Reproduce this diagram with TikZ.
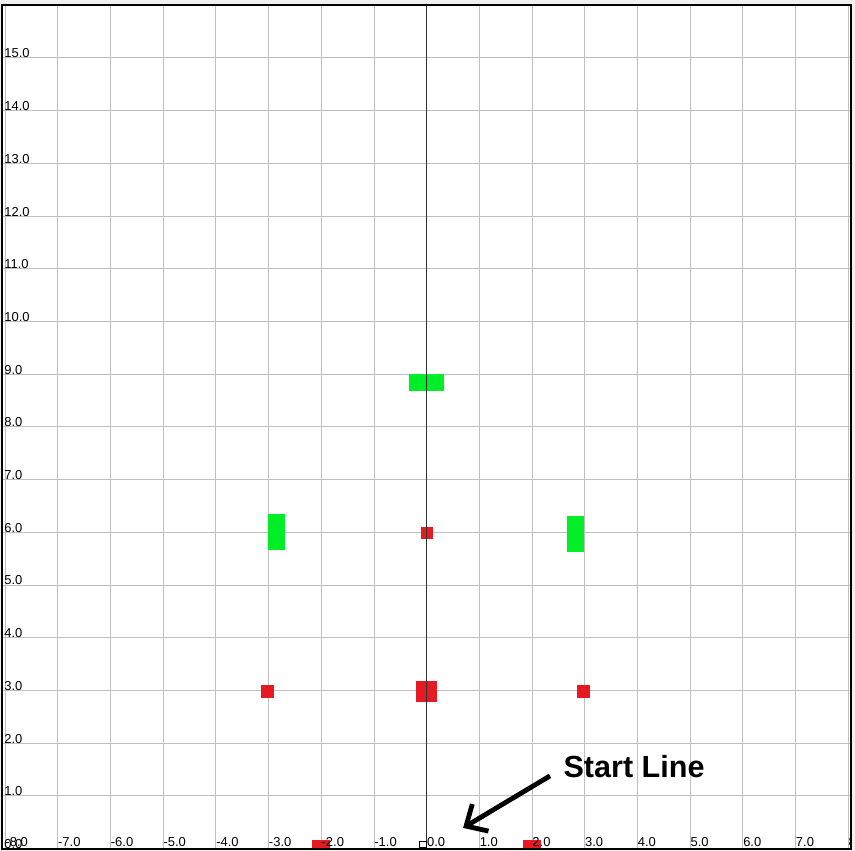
\documentclass[tikz,border=0pt]{standalone}
\usepackage{fontspec}
\setmainfont{Liberation Sans}
\usetikzlibrary{arrows.meta}
\definecolor{gridline}{RGB}{192,192,192}
\definecolor{axisline}{RGB}{50,50,50}
\definecolor{padbg}{RGB}{240,240,240}
\definecolor{markred}{RGB}{230,26,34}
\definecolor{gategreen}{RGB}{0,238,40}
\newcommand{\redmark}[3]{% centre x, centre y, side
  \fill[markred] ({#1-#3/2},{#2-#3/2}) rectangle ({#1+#3/2},{#2+#3/2});}
\newcommand{\greengate}[4]{% centre x, centre y, width, height
  \fill[gategreen] ({#1-#3/2},{#2-#4/2}) rectangle ({#1+#3/2},{#2+#4/2});}
\tikzset{
  ticklbl/.style={anchor=base west,inner sep=0pt,font=\fontsize{7}{8}\selectfont,text=black},
  startarrow/.style={-{Straight Barb[length=9pt,width=17pt]},line width=2.6pt,black}
}

\begin{document}
\begin{tikzpicture}[x=1cm,y=1cm]
  \useasboundingbox (-8.097,-0.047) rectangle (8.127,16.10);
  \fill[padbg] (-8.097,-0.047) rectangle (8.127,16.10);
  \fill[white] (-8.06,-0.01) rectangle (8.05,16.0);
  \begin{scope}
    \clip (-8.06,-0.01) rectangle (8.05,16.0);
    % grid
    \foreach \x in {-8,...,8}{
      \draw[gridline,line width=0.5pt] (\x,0) -- (\x,16);
    }
    \foreach \y in {1,...,15}{
      \draw[gridline,line width=0.5pt] (-8.06,\y) -- (8.05,\y);
    }
    % gates and marks
    \greengate{0}{8.85}{0.66}{0.32}
    \greengate{-2.85}{6.0}{0.32}{0.68}
    \greengate{2.83}{5.97}{0.32}{0.69}
    \redmark{0}{5.99}{0.23}
    \redmark{-3.02}{2.98}{0.24}
    \redmark{0}{2.98}{0.40}
    \redmark{2.98}{2.98}{0.24}
    \redmark{-2.0}{0}{0.34}
    \redmark{2.0}{0}{0.34}
    % centre line
    \draw[axisline,line width=0.5pt] (0,0) -- (0,16);
    % tick labels
    \foreach \y in {0,...,15}{
      \node[ticklbl] (ylbl\y) at (-8.02,\y) {\y.0};
    }
    \foreach \x in {-8,...,8}{
      \node[ticklbl] (xlbl\x) at (\x,0.03) {\x.0};
    }
    \draw[black,line width=0.4pt] (-0.13,0.02) rectangle (0,0.14);
  \end{scope}
  \draw[black,line width=1.3pt] (-8.06,-0.01) rectangle (8.05,16.0);
  % start line callout
  \node[anchor=base west,inner sep=0pt,font=\bfseries\fontsize{16.5}{18}\selectfont]
    (startlbl) at (2.59,1.34) {Start Line};
  \coordinate (starttip) at (0.69,0.39);
  \draw[startarrow] ([xshift=-0.25cm,yshift=0.05cm]startlbl.south west) -- (starttip);
\end{tikzpicture}
\end{document}
